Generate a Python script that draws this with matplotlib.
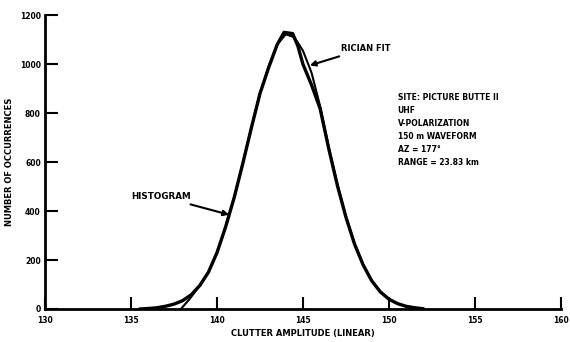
import matplotlib
matplotlib.use("Agg")
import matplotlib.pyplot as plt

# Histogram curve
hist_x = [135.5, 136.0, 136.5, 137.0, 137.5, 138.0, 138.5, 139.0, 139.5, 140.0,
          140.5, 141.0, 141.5, 142.0, 142.5, 143.0, 143.5, 143.9, 144.4, 144.7,
          145.0, 145.5, 146.0, 146.5, 147.0, 147.5, 148.0, 148.5, 149.0, 149.5,
          150.0, 150.5, 151.0, 151.5, 152.0]
hist_y = [0, 2, 5, 11, 20, 34, 58, 96, 150, 230,
          335, 455, 594, 740, 880, 985, 1080, 1130, 1125, 1075,
          1000, 915, 818, 655, 505, 375, 265, 180, 115, 70,
          40, 22, 11, 5, 1]

# Rician fit curve
fit_x = [137.9, 138.4, 139.0, 139.5, 140.0, 140.5, 141.0, 141.5, 142.0, 142.5,
         143.0, 143.5, 144.0, 144.5, 145.0, 145.5, 146.0, 146.5, 147.0, 147.5,
         148.0, 148.5, 149.0, 149.5, 150.0, 150.5, 151.0, 151.5, 152.0]
fit_y = [0, 40, 96, 150, 230, 335, 455, 594, 740, 880,
         990, 1080, 1122, 1110, 1055, 965, 828, 660, 510, 378,
         268, 182, 116, 71, 41, 22, 11, 5, 1]

x_ticks = [130, 135, 140, 145, 150, 155, 160]
y_ticks = [0, 200, 400, 600, 800, 1000, 1200]

info_lines = ["SITE: PICTURE BUTTE II", "UHF", "V-POLARIZATION",
              "150 m WAVEFORM", "AZ = 177\u00b0", "RANGE = 23.83 km"]

fig = plt.figure(figsize=(5.7, 3.42), dpi=100)
ax = fig.add_axes([0.079, 0.0965, 0.905, 0.859])

ax.plot(hist_x, hist_y, color="black", lw=2.4, solid_capstyle="round",
        solid_joinstyle="round")
ax.plot(fit_x, fit_y, color="black", lw=1.5)

ax.set_xlim(130, 160)
ax.set_ylim(0, 1200)
ax.set_xticks(x_ticks)
ax.set_yticks(y_ticks)
for s in ["top", "right"]:
    ax.spines[s].set_visible(False)
for s in ["left", "bottom"]:
    ax.spines[s].set_linewidth(2.0)
ax.tick_params(direction="in", length=9, width=1.5, labelsize=5.5)
ax.tick_params(axis="x", pad=5)
ax.tick_params(axis="y", pad=3)
for lab in ax.get_xticklabels() + ax.get_yticklabels():
    lab.set_fontweight("bold")

ax.set_xlabel("CLUTTER AMPLITUDE (LINEAR)", fontsize=6, fontweight="bold", labelpad=3)
ax.set_ylabel("NUMBER OF OCCURRENCES", fontsize=6, fontweight="bold", labelpad=4)

ax.annotate("RICIAN FIT", xy=(145.4, 995), xytext=(147.2, 1065),
            fontsize=6, fontweight="bold", va="center", ha="left",
            arrowprops=dict(arrowstyle="-|>", color="black", lw=1.5,
                            mutation_scale=8, shrinkA=2, shrinkB=0))
ax.annotate("HISTOGRAM", xy=(140.7, 385), xytext=(135.0, 460),
            fontsize=6.3, fontweight="bold", va="center", ha="left",
            arrowprops=dict(arrowstyle="-|>", color="black", lw=1.5,
                            mutation_scale=8, shrinkA=2, shrinkB=0))

trans = ax.get_xaxis_transform()
for i, line in enumerate(info_lines):
    ax.text(150.5, 0.721 - i * 0.0445, line, transform=trans,
            fontsize=5.5, fontweight="bold", va="center", ha="left")

fig.savefig("out.png", dpi=100)
